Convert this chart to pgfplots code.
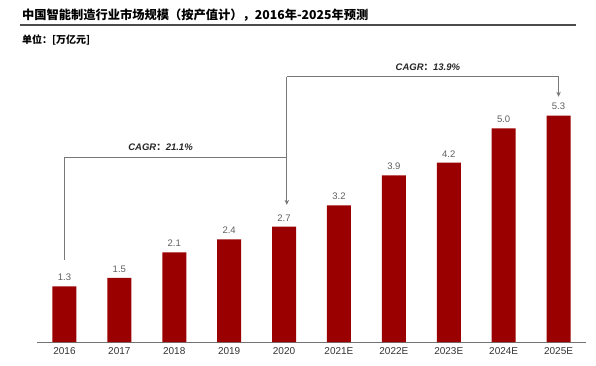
\documentclass[border=0pt]{standalone}
\usepackage{fontspec}
\setmainfont{Liberation Sans}
\newfontfamily\cjk{Noto Sans CJK SC}
\usepackage{pgfplots}
\pgfplotsset{compat=1.18}
\usetikzlibrary{arrows.meta}
\definecolor{barred}{RGB}{155,0,0}
\definecolor{lblgray}{RGB}{95,95,95}
\definecolor{linegray}{RGB}{120,120,120}
\begin{document}
\begin{tikzpicture}[x=1pt,y=1pt]
\useasboundingbox (0,0) rectangle (596,365);
\node[anchor=west, inner sep=0] at (22,350) {\cjk\bfseries\fontsize{12.25}{14}\selectfont 中国智能制造行业市场规模（按产值计），2016年-2025年预测};
\draw[line width=1.5pt, black!70] (20,340) -- (576,340);
\node[anchor=west, inner sep=0] at (22,325) {\cjk\bfseries\fontsize{10}{12}\selectfont 单位：[万亿元]};
\begin{axis}[
  at={(37pt,23pt)}, anchor=south west,
  scale only axis, width=549pt, height=282pt,
  xmin=-0.5, xmax=9.5, ymin=0, ymax=6.6,
  axis x line=bottom, axis y line=none,
  x axis line style={-, draw=black!55, line width=0.8pt},
  xtick={0,...,9},
  xticklabels={2016,2017,2018,2019,2020,2021E,2022E,2023E,2024E,2025E},
  major tick length=0pt,
  ytick=\empty,
  xticklabel style={font=\fontsize{10}{12}\selectfont, text=black!80, yshift=-2pt},
  clip=false,
  /pgf/number format/assume math mode=true,
]
\addplot[ybar, bar width=24pt, fill=barred, draw=none,
  nodes near coords,
  point meta=y,
  nodes near coords style={font=\fontsize{9.5}{11}\selectfont, text=lblgray, yshift=2pt,
    /pgf/number format/.cd, fixed, fixed zerofill, precision=1, assume math mode=true},
] coordinates {(0,1.3) (1,1.5) (2,2.1) (3,2.4) (4,2.7) (5,3.2) (6,3.9) (7,4.2) (8,5.0) (9,5.3)};
\draw[linegray, line width=0.8pt] (axis cs:0,1.92) -- (axis cs:0,4.33) -- (axis cs:4.05,4.33);
\draw[linegray, line width=0.8pt, -{Stealth[length=5pt,width=4.5pt]}] (axis cs:4.05,6.21) -- (axis cs:4.05,3.21);
\draw[linegray, line width=0.8pt, -{Stealth[length=5pt,width=4.5pt]}] (axis cs:4.05,6.21) -- (axis cs:9,6.21) -- (axis cs:9,5.74);
\node[text=black!85, font=\fontsize{9.5}{11}\selectfont\bfseries\itshape] at (axis cs:1.75,4.57) {CAGR{\cjk\upshape ：}21.1\%};
\node[text=black!85, font=\fontsize{9.5}{11}\selectfont\bfseries\itshape] at (axis cs:6.62,6.44) {CAGR{\cjk\upshape ：}13.9\%};
\end{axis}
\end{tikzpicture}
\end{document}
